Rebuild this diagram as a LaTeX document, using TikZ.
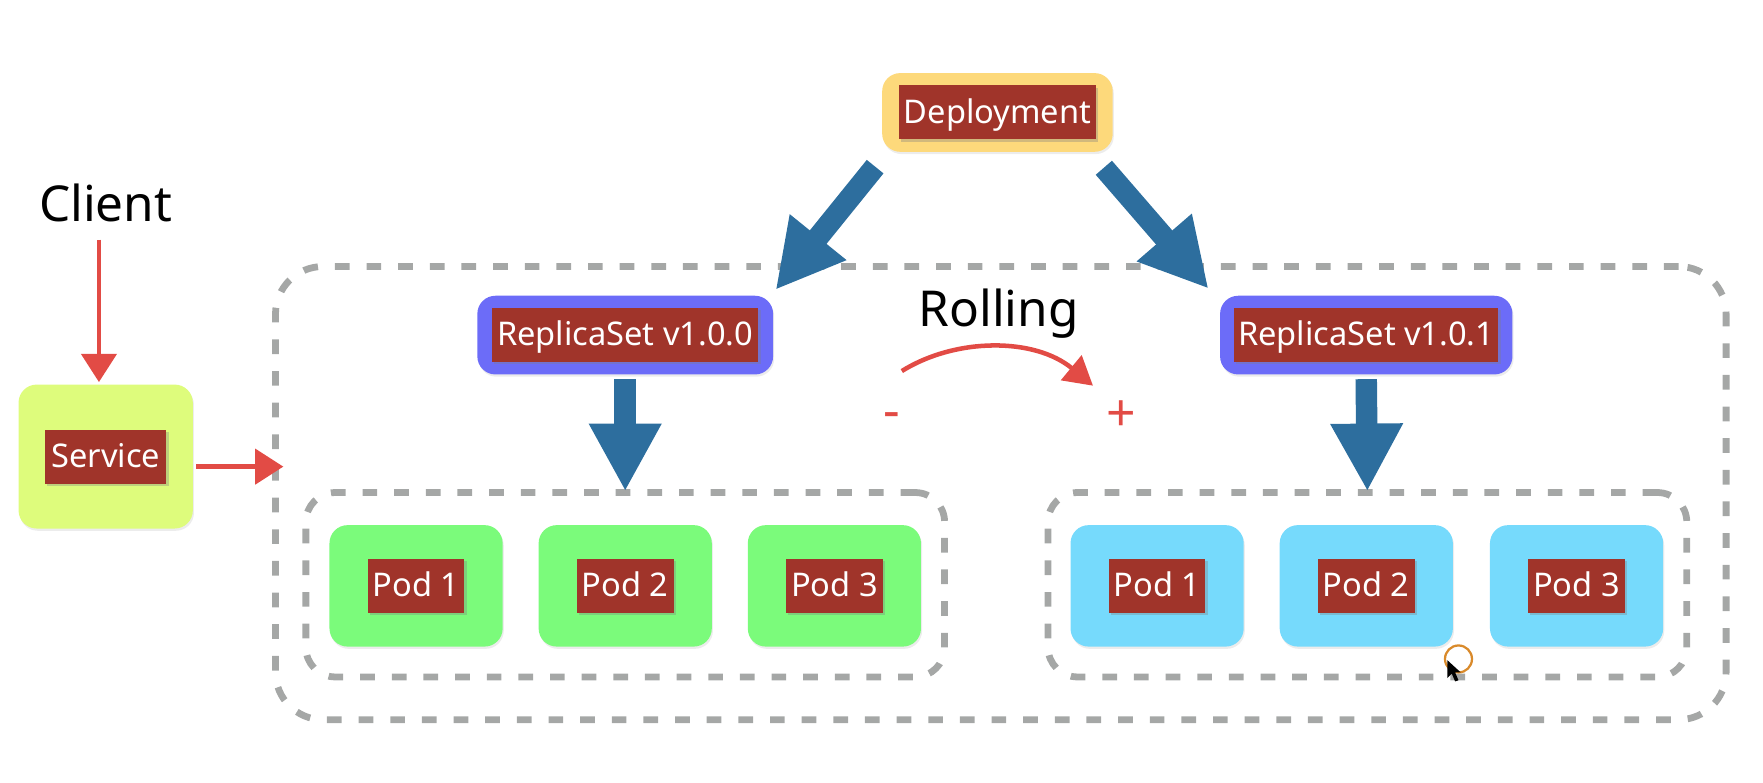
\documentclass[tikz,border=0pt]{standalone}
\usepackage{fontspec}
\setmainfont{Noto Sans}
\usetikzlibrary{arrows.meta,calc,shadows}
\definecolor{tagred}{HTML}{A0342A}
\definecolor{depyellow}{HTML}{FDD97B}
\definecolor{rsblue}{HTML}{6C6CF8}
\definecolor{podgreen}{HTML}{7BFB7B}
\definecolor{podcyan}{HTML}{76DAFC}
\definecolor{svcgreen}{HTML}{DEFC7C}
\definecolor{fatblue}{HTML}{2D6E9E}
\definecolor{dashgrey}{HTML}{A5A7A6}
\definecolor{pencil}{HTML}{E24B45}
\definecolor{ring}{HTML}{D98A2B}
\begin{document}
\begin{tikzpicture}[x=1pt,y=-1pt, scale=0.995, transform shape,
  outerbox/.style={rounded corners=16pt, inner sep=0pt,
    drop shadow={shadow xshift=1pt,shadow yshift=-2pt,opacity=0.15}},
  tag/.style={fill=tagred, text=white, inner sep=0pt,
    font=\fontsize{29}{34}\selectfont, text height=21pt, text depth=2pt,
    minimum height=48pt,
    drop shadow={shadow xshift=2pt,shadow yshift=-2pt,opacity=0.35}},
  pod/.style={outerbox, minimum width=154pt, minimum height=108pt},
  podtag/.style={tag, minimum width=86pt},
  group/.style={draw=dashgrey, line width=6pt, dash pattern=on 13pt off 15pt, inner sep=0pt},
  fat/.style={draw=fatblue, line width=19pt, -{Triangle[length=60pt,width=60pt]}},
  redarrow/.style={draw=pencil, line width=4pt, -{Triangle[length=25pt,width=31pt]}},
  bigtext/.style={font=\fontsize{44}{50}\selectfont, anchor=base},
  sign/.style={text=pencil, font=\fontsize{46}{50}\selectfont, anchor=base}
]
\useasboundingbox (0,0) rectangle (1567.8,695.5);

% dashed groups
\node[group, rounded corners=42pt, minimum width=1290pt, minimum height=403pt] (big) at (890,438.5) {};
\node[group, rounded corners=26pt, minimum width=568pt, minimum height=164pt] (grpA) at (556,520) {};
\node[group, rounded corners=26pt, minimum width=568pt, minimum height=164pt] (grpB) at (1216,520) {};

% deployment
\node[outerbox, fill=depyellow, minimum width=205pt, minimum height=70pt] (dep) at (887,100) {};
\node[tag, minimum width=175pt] (depL) at (dep) {Deployment};

% client & service
\node[bigtext] (client) at (94,197) {Client};
\node[outerbox, fill=svcgreen, minimum width=155pt, minimum height=128pt] (svc) at (94,406) {};
\node[tag, minimum width=108pt] (svcL) at (svc) {Service};

% replicasets
\node[outerbox, fill=rsblue, minimum width=263pt, minimum height=70pt] (rsA) at (556,298) {};
\node[tag, minimum width=237pt] (rsAL) at (rsA) {ReplicaSet v1.0.0};
\node[outerbox, fill=rsblue, minimum width=260pt, minimum height=70pt] (rsB) at (1215,298) {};
\node[tag, minimum width=235pt] (rsBL) at (rsB) {ReplicaSet v1.0.1};

% pods
\node[pod, fill=podgreen] (pA1) at (370,521) {};
\node[podtag] (pA1L) at (pA1) {Pod 1};
\node[pod, fill=podgreen] (pA2) at (556,521) {};
\node[podtag] (pA2L) at (pA2) {Pod 2};
\node[pod, fill=podgreen] (pA3) at (742,521) {};
\node[podtag] (pA3L) at (pA3) {Pod 3};
\node[pod, fill=podcyan] (pB1) at (1029,521) {};
\node[podtag] (pB1L) at (pB1) {Pod 1};
\node[pod, fill=podcyan] (pB2) at (1215,521) {};
\node[podtag] (pB2L) at (pB2) {Pod 2};
\node[pod, fill=podcyan] (pB3) at (1402,521) {};
\node[podtag] (pB3L) at (pB3) {Pod 3};

% rolling
\node[bigtext] (roll) at (888,290) {Rolling};
\node[sign] (minus) at (793,381) {-};
\node[sign] (plus) at (997,384) {+};
\coordinate (rollS) at (802,330);
\coordinate (rollE) at (972,343);
\draw[pencil, line width=4pt, -{Triangle[length=25pt,width=28pt]}]
  (rollS) .. controls (850,300) and (920,300) .. (rollE);

% fat blue arrows
\coordinate (fA) at ($(dep.south west)+(-6,13)$);
\coordinate (fB) at ($(dep.south east)+(-8,14)$);
\draw[fat] (fA) -- ($(rsA.north east)+(2,-5)$);
\draw[fat] (fB) -- ($(rsB.north west)+(-10,-6)$);
\draw[fat] ($(rsA.south)+(0,4)$) -- ($(grpA.north)+(0,2)$);
\draw[fat] ($(rsB.south)+(0,4)$) -- ($(grpB.north)+(0,2)$);

% red arrows
\draw[redarrow] ($(client.base)+(-6,16)$) -- ($(svc.north)+(-6,-2)$);
\coordinate (svcOut) at ($(svc.east)+(3,9)$);
\draw[redarrow] (svcOut) -- ($(big.west |- svcOut)+(10,0)$);

% cursor
\draw[ring, line width=2pt] (1297,586) circle (12pt);
\fill[black] (1287,587) -- (1287,603) -- (1291,599) -- (1294,606) -- (1297,605) -- (1294,598) -- (1299,598) -- cycle;
\end{tikzpicture}
\end{document}
